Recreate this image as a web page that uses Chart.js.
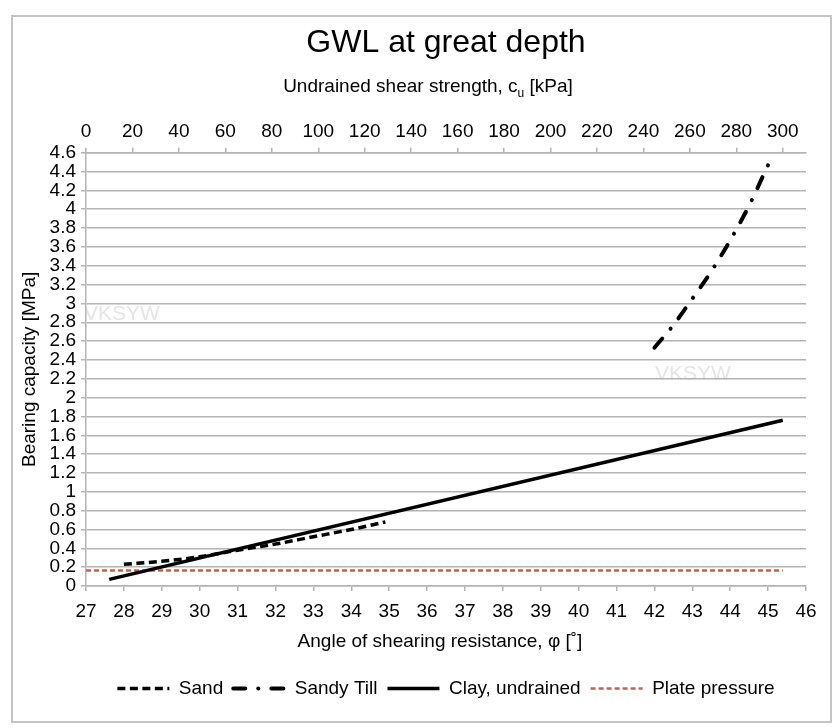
<!DOCTYPE html>
<html>
<head>
<meta charset="utf-8">
<script src="https://cdn.jsdelivr.net/npm/chart.js@4/dist/chart.umd.min.js"></script>
<style>
  html, body { margin: 0; padding: 0; background: #ffffff; }
  canvas { display: block; }
</style>
</head>
<body>
<canvas id="c" width="834" height="728"></canvas>
<script>
// ---- data ----
const sandPhi = [28, 29, 30, 31, 32, 33, 34, 34.9];
const sandQ   = [0.23, 0.262, 0.31, 0.38, 0.445, 0.523, 0.60, 0.68];

const tillPhi = [42, 42.5, 43, 43.5, 44, 44.5, 45];
const tillQ   = [2.53, 2.77, 3.05, 3.34, 3.67, 4.04, 4.47];

const clayCu  = [10, 300];
const clayQ   = [0.07, 1.76];

const plateCu = [0, 300];
const plateQ  = [0.165, 0.165];

const seriesNames = ['Sand', 'Sandy Till', 'Clay, undrained', 'Plate pressure'];
const chartTitle = 'GWL at great depth';
const yTitle = 'Bearing capacity [MPa]';
const xTitle = 'Angle of shearing resistance, \u03C6 [\u02DA]';
const x2TitleMain = 'Undrained shear strength, c';
const x2TitleSub = 'u';
const x2TitleEnd = ' [kPa]';
const watermark = 'VKSYW';

const toXY = (xs, ys) => xs.map((x, i) => ({ x: x, y: ys[i] }));

const FONT = "'Liberation Sans', Arial, sans-serif";
const GRID = '#b4b4b4';

const decor = {
  id: 'decor',
  beforeDraw(chart) {
    const ctx = chart.ctx;
    ctx.save();
    ctx.fillStyle = '#ffffff';
    ctx.fillRect(0, 0, chart.width, chart.height);
    ctx.strokeStyle = '#c4c4c4';
    ctx.lineWidth = 2;
    ctx.strokeRect(12, 16, 819, 706);
    ctx.restore();
  },
  afterDraw(chart) {
    const ctx = chart.ctx;
    const a = chart.chartArea;
    ctx.save();
    ctx.fillStyle = '#000';
    ctx.textBaseline = 'middle';
    // top axis title with subscript
    const big = '19px ' + FONT, small = '12px ' + FONT;
    ctx.font = big;
    const w1 = ctx.measureText(x2TitleMain).width;
    const w3 = ctx.measureText(x2TitleEnd).width;
    ctx.font = small;
    const w2 = ctx.measureText(x2TitleSub).width;
    const total = w1 + w2 + w3;
    let sx = 428 - total / 2;
    const ty = a.top - 66;
    ctx.textAlign = 'left';
    ctx.font = big; ctx.fillText(x2TitleMain, sx, ty);
    ctx.font = small; ctx.fillText(x2TitleSub, sx + w1, ty + 7);
    ctx.font = big; ctx.fillText(x2TitleEnd, sx + w1 + w2, ty);
    // bottom axis title
    ctx.textAlign = 'center';
    ctx.fillText(xTitle, 440, a.bottom + 56);
    // y axis title
    ctx.save();
    ctx.translate(30, (a.top + a.bottom) / 2);
    ctx.rotate(-Math.PI / 2);
    ctx.fillText(yTitle, 0, 0);
    ctx.restore();
    // faint watermark
    ctx.fillStyle = 'rgba(180,180,180,0.35)';
    ctx.font = '21px ' + FONT;
    ctx.textAlign = 'left';
    ctx.fillText(watermark, 84, 314);
    ctx.fillText(watermark, 655, 374);
    ctx.restore();
  }
};

new Chart(document.getElementById('c'), {
  type: 'line',
  data: {
    datasets: [
      {
        label: seriesNames[0],
        data: toXY(sandPhi, sandQ),
        xAxisID: 'x', yAxisID: 'y',
        borderColor: '#000000', backgroundColor: '#000000',
        borderWidth: 3.5, borderDash: [8, 4.5],
        pointRadius: 0, cubicInterpolationMode: 'monotone', fill: false
      },
      {
        label: seriesNames[1],
        data: toXY(tillPhi, tillQ),
        xAxisID: 'x', yAxisID: 'y',
        borderColor: '#000000', backgroundColor: '#000000',
        borderWidth: 4, borderDash: [12, 13, 0.1, 13], borderCapStyle: 'round',
        pointRadius: 0, cubicInterpolationMode: 'monotone', fill: false
      },
      {
        label: seriesNames[2],
        data: toXY(clayCu, clayQ),
        xAxisID: 'x2', yAxisID: 'y',
        borderColor: '#000000', backgroundColor: '#000000',
        borderWidth: 3.5,
        pointRadius: 0, fill: false
      },
      {
        label: seriesNames[3],
        data: toXY(plateCu, plateQ),
        xAxisID: 'x2', yAxisID: 'y',
        borderColor: '#cc5f4c', backgroundColor: '#cc5f4c',
        borderWidth: 2.5, borderDash: [5, 3],
        pointRadius: 0, fill: false
      }
    ]
  },
  options: {
    responsive: false,
    animation: false,
    devicePixelRatio: 1,
    layout: { padding: { left: 14, right: 28, top: 19, bottom: 20 } },
    font: { family: FONT },
    plugins: {
      title: {
        display: true,
        text: chartTitle,
        fullSize: false,
        color: '#000',
        font: { family: FONT, size: 32, weight: 'normal' },
        padding: { top: 5, bottom: 0 }
      },
      legend: {
        display: true,
        position: 'bottom',
        fullSize: false,
        labels: {
          color: '#000',
          font: { family: FONT, size: 19 },
          usePointStyle: true,
          pointStyle: 'line',
          pointStyleWidth: 52,
          padding: 10,
          generateLabels: chart => {
            const items = Chart.defaults.plugins.legend.labels.generateLabels(chart);
            items.forEach(it => {
              const ds = chart.data.datasets[it.datasetIndex];
              it.lineDash = ds.borderDash || [];
              it.lineCap = ds.borderCapStyle || 'butt';
              it.strokeStyle = ds.borderColor;
              it.lineWidth = ds.borderWidth;
              it.pointStyle = 'line';
            });
            return items;
          }
        }
      },
      tooltip: { enabled: false }
    },
    scales: {
      x: {
        type: 'linear', position: 'bottom',
        min: 27, max: 46,
        afterFit: s => { s.height = 83; },
        ticks: { stepSize: 1, color: '#000', font: { family: FONT, size: 19 }, padding: 9, autoSkip: false, maxRotation: 0 },
        grid: { drawOnChartArea: false, drawTicks: true, tickLength: 5, color: GRID, lineWidth: 1.5 },
        border: { display: true, color: GRID, width: 1.5 },
        title: { display: false }
      },
      x2: {
        type: 'linear', position: 'top',
        min: 0, max: 310,
        afterFit: s => { s.height = 90.3; },
        afterBuildTicks: s => { s.ticks = s.ticks.filter(t => t.value <= 300); },
        ticks: { stepSize: 20, includeBounds: false, color: '#000', font: { family: FONT, size: 19 }, padding: 5, autoSkip: false, maxRotation: 0 },
        grid: { drawOnChartArea: false, drawTicks: true, tickLength: 5, color: GRID, lineWidth: 1.5 },
        border: { display: true, color: GRID, width: 1.5 },
        title: { display: false }
      },
      y: {
        type: 'linear', position: 'left',
        min: 0, max: 4.6,
        afterFit: s => { s.width = 72; },
        ticks: {
          stepSize: 0.2, color: '#000', font: { family: FONT, size: 19 }, padding: 5, autoSkip: false,
          callback: v => String(Math.round(v * 10) / 10)
        },
        grid: { drawTicks: true, tickLength: 5, color: GRID, lineWidth: 1.5 },
        border: { display: true, color: GRID, width: 1.5 },
        title: { display: false }
      }
    }
  },
  plugins: [decor]
});
</script>
</body>
</html>
